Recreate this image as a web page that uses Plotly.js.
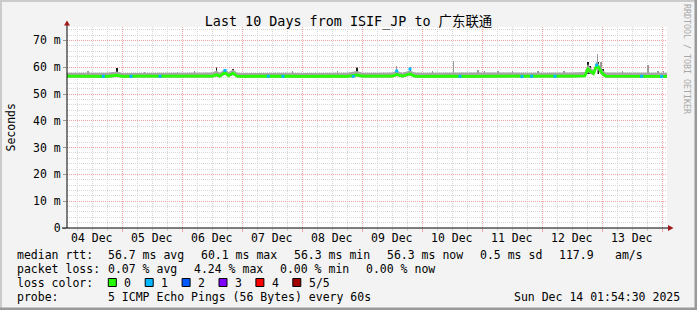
<!DOCTYPE html>
<html>
<head>
<meta charset="utf-8">
<script src="https://cdn.plot.ly/plotly-3.0.1.min.js"></script>
<style>
html,body{margin:0;padding:0;background:#f3f3f3;}
#chart{width:697px;height:310px;}
</style>
</head>
<body>
<div id="chart"></div>
<script>
// ---------------- DATA ----------------
const rangeStart = '2025-12-04 01:54:30';
const rangeEnd   = '2025-12-14 01:54:30';

const yTickVals = [0, 10, 20, 30, 40, 50, 60, 70];
const yTickText = ['0', '10 m', '20 m', '30 m', '40 m', '50 m', '60 m', '70 m'];

const dayLabelDates = ['2025-12-04 12:00','2025-12-05 12:00','2025-12-06 12:00','2025-12-07 12:00','2025-12-08 12:00',
                       '2025-12-09 12:00','2025-12-10 12:00','2025-12-11 12:00','2025-12-12 12:00','2025-12-13 12:00'];
const dayLabels = ['04 Dec','05 Dec','06 Dec','07 Dec','08 Dec','09 Dec','10 Dec','11 Dec','12 Dec','13 Dec'];

const medianTimes = [
 '2025-12-04 00:00','2025-12-04 06:00','2025-12-04 12:00','2025-12-04 18:00','2025-12-04 21:54',
 '2025-12-05 00:00','2025-12-05 06:00','2025-12-05 12:00','2025-12-05 18:00',
 '2025-12-06 00:00','2025-12-06 06:00','2025-12-06 12:00','2025-12-06 13:47','2025-12-06 15:00',
 '2025-12-06 17:06','2025-12-06 18:30','2025-12-06 20:18','2025-12-06 22:00',
 '2025-12-07 00:00','2025-12-07 06:00','2025-12-07 12:00','2025-12-07 18:00',
 '2025-12-08 00:00','2025-12-08 06:00','2025-12-08 12:00','2025-12-08 18:00','2025-12-08 21:54',
 '2025-12-09 00:00','2025-12-09 06:00','2025-12-09 12:00','2025-12-09 13:47','2025-12-09 16:00',
 '2025-12-09 19:06','2025-12-09 21:00',
 '2025-12-10 00:00','2025-12-10 06:00','2025-12-10 12:00','2025-12-10 18:00',
 '2025-12-11 00:00','2025-12-11 06:00','2025-12-11 12:00','2025-12-11 18:00',
 '2025-12-12 00:00','2025-12-12 06:00','2025-12-12 12:00','2025-12-12 17:00','2025-12-12 18:18',
 '2025-12-12 19:06','2025-12-12 20:30','2025-12-12 21:47','2025-12-12 22:30','2025-12-12 23:30',
 '2025-12-13 00:18','2025-12-13 01:30','2025-12-13 06:00','2025-12-13 12:00','2025-12-13 18:00',
 '2025-12-14 00:00','2025-12-14 03:00'
];
const medianVals = [
 56.7,56.6,56.7,56.6,57.0,
 56.6,56.7,56.6,56.7,
 56.7,56.6,56.7,57.2,56.7,
 58.0,56.8,57.8,56.7,
 56.6,56.7,56.6,56.7,
 56.6,56.7,56.7,56.6,57.1,
 56.7,56.6,56.7,57.3,56.7,
 57.5,56.7,
 56.6,56.7,56.7,56.6,
 56.6,56.7,56.6,56.5,
 56.6,56.6,56.7,56.8,59.3,
 58.6,57.6,60.6,60.0,58.4,
 57.4,56.7,56.7,56.6,56.7,
 56.6,56.6
];
const smokeLo = [
 56.1,56.0,56.1,56.0,56.3,
 56.0,56.1,56.0,56.1,
 56.1,56.0,56.1,56.5,56.1,
 57.2,56.3,57.0,56.1,
 56.0,56.1,56.0,56.1,
 56.0,56.1,56.1,56.0,56.4,
 56.1,56.0,56.1,56.6,56.1,
 56.8,56.1,
 56.0,56.1,56.1,56.0,
 56.0,56.1,56.0,55.9,
 56.0,56.0,56.1,56.3,58.0,
 57.6,56.9,59.2,58.8,57.4,
 56.6,56.1,56.1,56.0,56.1,
 56.0,56.0
];
const smokeHi = [
 57.9,57.8,57.9,57.9,58.4,
 57.8,57.9,57.8,57.9,
 57.9,57.9,58.0,58.8,57.9,
 59.2,58.1,59.1,57.9,
 57.8,57.9,57.8,57.9,
 57.8,57.9,58.0,57.9,58.6,
 57.9,57.9,58.0,58.7,57.9,
 58.8,58.0,
 57.9,58.0,58.1,58.0,
 58.0,58.1,58.0,57.9,
 57.9,58.0,58.0,58.2,61.2,
 60.0,59.0,62.2,61.4,59.8,
 58.8,58.0,58.0,57.9,58.1,
 58.0,57.9
];

const spikeBase = 57.3;
const graySpikeTimes = [
 '2025-12-04 10:18','2025-12-05 09:00','2025-12-05 22:00','2025-12-06 05:00','2025-12-06 13:47',
 '2025-12-07 20:00','2025-12-08 14:00','2025-12-08 21:54','2025-12-09 13:47','2025-12-09 19:18',
 '2025-12-10 04:00','2025-12-10 12:25','2025-12-10 22:18','2025-12-11 01:00','2025-12-11 06:18',
 '2025-12-11 12:00','2025-12-11 22:18','2025-12-12 08:42','2025-12-12 18:18','2025-12-12 22:11',
 '2025-12-12 23:30','2025-12-13 08:00','2025-12-13 18:18','2025-12-13 22:18','2025-12-14 00:30'
];
const graySpikeTops = [
 58.4,58.2,58.3,58.5,60.2,
 58.4,58.5,60.0,60.3,60.0,
 58.4,62.4,59.0,58.5,58.7,
 58.4,58.7,58.4,62.0,65.0,
 61.8,58.5,61.0,58.7,58.5
];
const darkSpikeTimes = [
 '2025-12-04 21:54','2025-12-06 13:47','2025-12-06 17:18','2025-12-06 20:18','2025-12-08 21:54',
 '2025-12-09 13:47','2025-12-09 19:18','2025-12-12 18:18','2025-12-12 19:06','2025-12-12 22:30',
 '2025-12-13 00:18'
];
const darkSpikeTops = [59.6,59.8,59.3,59.4,59.7,59.0,59.8,61.8,60.5,62.0,59.2];

const loss1Times = [
 '2025-12-04 16:25','2025-12-05 03:30','2025-12-05 15:06','2025-12-06 17:06','2025-12-07 10:25',
 '2025-12-07 16:18','2025-12-08 20:25','2025-12-09 13:47','2025-12-09 19:06','2025-12-10 15:06',
 '2025-12-11 15:54','2025-12-11 19:47','2025-12-12 05:06','2025-12-12 21:47','2025-12-13 15:47',
 '2025-12-13 23:47'
];
const loss1Vals = [
 56.6,56.6,56.6,58.8,56.6,
 56.6,56.6,58.6,59.3,56.6,
 56.5,56.6,56.6,60.8,56.6,
 56.5
];

const lossLabels = ['0', '1', '2', '3', '4', '5/5'];
const lossColors = ['#26ff00', '#00b8ff', '#0059ff', '#7e00ff', '#ff0000', '#a10000'];

const titleText = 'Last 10 Days from ISIF_JP to 广东联通';
const yAxisTitle = 'Seconds';
const rttLabel = 'median rtt:';
const rttStats = ['56.7 ms avg', '60.1 ms max', '56.3 ms min', '56.3 ms now', '0.5 ms sd', '117.9', 'am/s'];
const lossLabel = 'packet loss:';
const lossStats = ['0.07 % avg', '4.24 % max', '0.00 % min', '0.00 % now'];
const lossColorLabel = 'loss color:';
const probeLabel = 'probe:';
const probeText = '5 ICMP Echo Pings (56 Bytes) every 60s';
const dateText = 'Sun Dec 14 01:54:30 2025';
const sideText = 'RRDTOOL / TOBI OETIKER';

// ---------------- LAYOUT HELPERS ----------------
const L = 67, T = 27, PW = 600, PH = 201;
const px = x => (x - L) / PW;
const py = y => (T + PH - y) / PH;
const FONT = 'DejaVu Sans Mono, Noto Sans CJK SC, monospace';

const ann = [];
function text(x, y, s, opts) {
  ann.push(Object.assign({
    x: px(x), y: py(y), xref: 'paper', yref: 'paper', text: s, showarrow: false,
    xanchor: 'left', yanchor: 'middle', borderpad: 0,
    font: {family: FONT, size: 11.5, color: '#000'}
  }, opts || {}));
}

// x tick labels (noon of each day)
dayLabels.forEach((s, i) => ann.push({
  x: dayLabelDates[i], y: py(237.5), xref: 'x', yref: 'paper', text: s, showarrow: false,
  xanchor: 'center', yanchor: 'middle', borderpad: 0, font: {family: FONT, size: 11.5, color: '#000'}
}));

// legend rows
text(16, 254.5, rttLabel);
const rttX = [107.3, 199.6, 292.6, 385.6, 478.7, 558.0, 614.0];
rttStats.forEach((s, i) => text(rttX[i], 254.5, s));
text(16, 268.5, lossLabel);
const lossX = [107.3, 192.6, 278.8, 364.8];
lossStats.forEach((s, i) => text(lossX[i], 268.5, s));
text(16, 282.5, lossColorLabel);
const shapes = [];
lossLabels.forEach((s, i) => {
  const bx = 108.3 + i * 36.9;
  shapes.push({type: 'rect', xref: 'paper', yref: 'paper', x0: px(bx), x1: px(bx + 8), y0: py(278.5), y1: py(286.5),
    fillcolor: lossColors[i], line: {color: '#000', width: 1}});
  text(bx + 15, 282.5, s);
});
text(16, 296.5, probeLabel);
text(107.3, 296.5, probeText);
text(513.3, 296.5, dateText);

// axis title and side text
text(10, 127.5, yAxisTitle, {xanchor: 'center', textangle: -90});
text(687, 59, sideText, {xanchor: 'center', textangle: 90, font: {family: FONT, size: 8.3, color: '#a8a8a8'}});

// frame
shapes.push({type:'rect', xref:'paper', yref:'paper', x0:px(0), x1:px(697), y0:py(0), y1:py(2), fillcolor:'#cbcbcb', line:{width:0}, layer:'below'});
shapes.push({type:'rect', xref:'paper', yref:'paper', x0:px(0), x1:px(2), y0:py(0), y1:py(310), fillcolor:'#cbcbcb', line:{width:0}, layer:'below'});
shapes.push({type:'rect', xref:'paper', yref:'paper', x0:px(0), x1:px(697), y0:py(307.5), y1:py(310), fillcolor:'#999999', line:{width:0}, layer:'below'});
shapes.push({type:'rect', xref:'paper', yref:'paper', x0:px(694.5), x1:px(697), y0:py(0), y1:py(310), fillcolor:'#999999', line:{width:0}, layer:'below'});

// axis lines and arrows
shapes.push({type:'line', xref:'paper', yref:'paper', x0:px(62), x1:px(669), y0:py(228), y1:py(228), line:{color:'#000', width:1}});
shapes.push({type:'line', xref:'paper', yref:'paper', x0:px(67), x1:px(67), y0:py(228), y1:py(24), line:{color:'#000', width:1}});
shapes.push({type:'path', xref:'paper', yref:'paper',
  path: `M ${px(64)} ${py(25.5)} L ${px(67)} ${py(20.5)} L ${px(70)} ${py(25.5)} Z`, fillcolor:'#a01818', line:{width:0}});
shapes.push({type:'path', xref:'paper', yref:'paper',
  path: `M ${px(668)} ${py(225)} L ${px(673.5)} ${py(228)} L ${px(668)} ${py(231)} Z`, fillcolor:'#a01818', line:{width:0}});

// ---------------- TRACES ----------------
const traces = [
  {x: medianTimes, y: smokeLo, type: 'scatter', mode: 'lines', line: {width: 0, color: 'rgba(0,0,0,0)'}, hoverinfo: 'skip'},
  {x: medianTimes, y: smokeHi, type: 'scatter', mode: 'lines', fill: 'tonexty', fillcolor: '#a6a6a6', line: {width: 0, color: '#a6a6a6'}, hoverinfo: 'skip'},
  {x: graySpikeTimes, y: graySpikeTops.map(v => v - spikeBase), base: spikeBase, type: 'bar', width: 1500000,
    marker: {color: '#9a9a9a', line: {width: 0}}},
  {x: darkSpikeTimes, y: darkSpikeTops.map(v => v - spikeBase), base: spikeBase, type: 'bar', width: 2200000,
    marker: {color: '#1a1a1a', line: {width: 0}}},
  {x: medianTimes, y: medianVals, type: 'scatter', mode: 'lines', line: {color: lossColors[0], width: 2.8}},
  {x: loss1Times, y: loss1Vals, type: 'scatter', mode: 'markers', marker: {symbol: 'square', size: 3, color: lossColors[1], line: {width: 0}}}
];

const layout = {
  width: 697, height: 310,
  margin: {l: L, r: 697 - L - PW, t: T, b: 310 - T - PH, pad: 0},
  paper_bgcolor: '#f3f3f3', plot_bgcolor: '#ffffff',
  showlegend: false, barmode: 'overlay', bargap: 0, hovermode: false,
  font: {family: FONT, size: 11.5, color: '#000'},
  title: {text: titleText, xref: 'container', yref: 'container', x: 348.5 / 697, y: 1 - 21.5 / 310,
    xanchor: 'center', yanchor: 'middle', font: {family: FONT, size: 13.4, color: '#000'}},
  xaxis: {
    type: 'date', range: [rangeStart, rangeEnd], tick0: '2025-12-04', dtick: 86400000,
    showticklabels: false,
    showgrid: true, gridcolor: '#f0a0a0', griddash: '1px,1px', gridwidth: 1,
    ticks: 'outside', ticklen: 3, tickcolor: '#f0a0a0',
    minor: {tick0: '2025-12-04', dtick: 21600000, showgrid: true, gridcolor: '#d6d6d6', griddash: '1px,1px',
      ticks: 'outside', ticklen: 2, tickcolor: '#d0d0d0'},
    showline: false, zeroline: false, fixedrange: true
  },
  yaxis: {
    range: [0, 75], tickmode: 'array', tickvals: yTickVals, ticktext: yTickText,
    showgrid: true, gridcolor: '#f0a0a0', griddash: '1px,1px', gridwidth: 1,
    ticks: 'outside', ticklen: 3, tickcolor: '#999999',
    minor: {tick0: 0, dtick: 2, showgrid: true, gridcolor: '#d6d6d6', griddash: '1px,1px', ticks: ''},
    showline: false, zeroline: false, tickfont: {family: FONT, size: 11.5, color: '#000'}, fixedrange: true
  },
  shapes: shapes,
  annotations: ann
};

Plotly.newPlot('chart', traces, layout, {staticPlot: true, displayModeBar: false});
</script>
</body>
</html>
